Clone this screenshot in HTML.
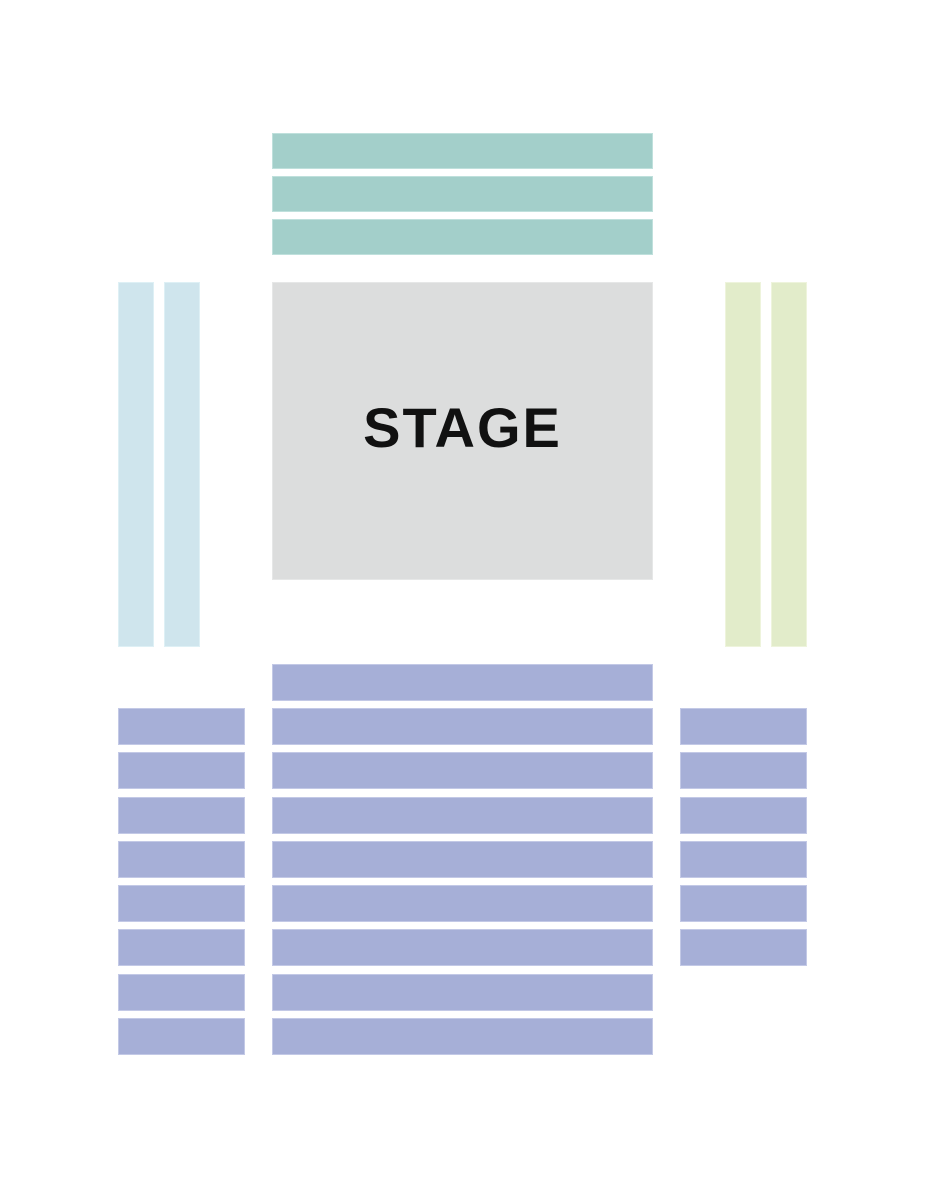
<!DOCTYPE html>
<html><head><style>
body{margin:0;width:926px;height:1200px;background:#fff;position:relative;overflow:hidden}
div.r{position:absolute;box-sizing:border-box}
.t{background:#a3cfca;border:1px solid #bfe0dc}
.b{background:#cfe5ed;border:1px solid #def0f5}
.g{background:#e2ecca;border:1px solid #eef4dc}
.p{background:#a6afd7;border:1px solid #c3c9e6}
.s{background:#dcdddd;border:1px solid #e6e7e7;font:bold 56px "Liberation Sans",sans-serif;color:#111;display:flex;align-items:center;justify-content:center;letter-spacing:2px;padding-bottom:8px}
</style></head><body>
<div class="r t" style="left:272px;top:133px;width:381px;height:36px"></div>
<div class="r t" style="left:272px;top:176px;width:381px;height:36px"></div>
<div class="r t" style="left:272px;top:219px;width:381px;height:36px"></div>
<div class="r s" style="left:272px;top:282px;width:381px;height:298px">STAGE</div>
<div class="r b" style="left:118px;top:282px;width:36px;height:365px"></div>
<div class="r b" style="left:164px;top:282px;width:36px;height:365px"></div>
<div class="r g" style="left:725px;top:282px;width:36px;height:365px"></div>
<div class="r g" style="left:771px;top:282px;width:36px;height:365px"></div>
<div class="r p" style="left:272px;top:664px;width:381px;height:37px"></div>
<script>
var ys=[708,752,797,841,885,929,974,1018];
for(var i=0;i<ys.length;i++){
document.write('<div class="r p" style="left:272px;top:'+ys[i]+'px;width:381px;height:37px"></div>');
document.write('<div class="r p" style="left:118px;top:'+ys[i]+'px;width:127px;height:37px"></div>');
if(i<6)document.write('<div class="r p" style="left:680px;top:'+ys[i]+'px;width:127px;height:37px"></div>');
}
</script>
</body></html>
